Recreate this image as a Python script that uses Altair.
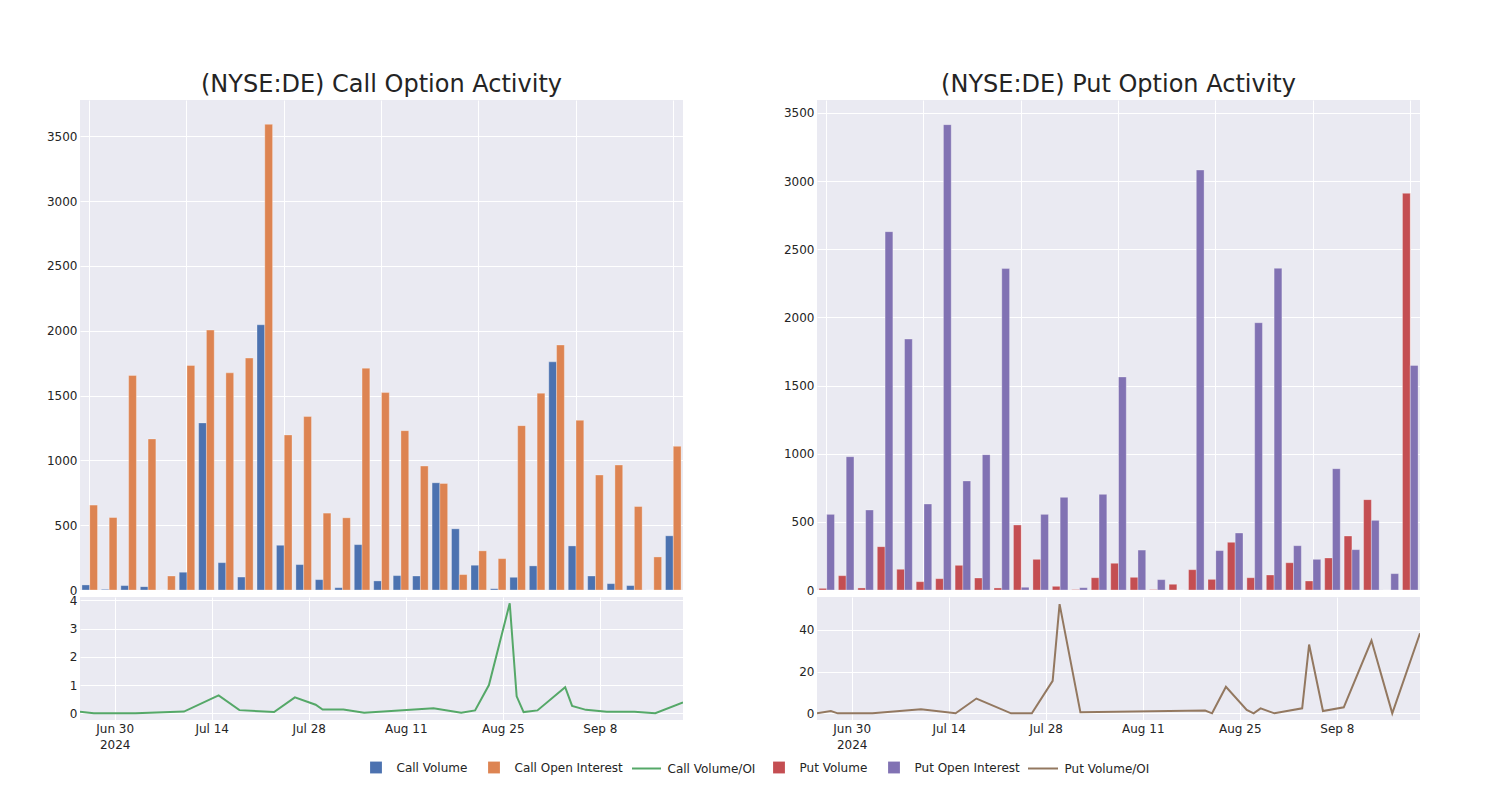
import altair as alt
import pandas as pd

# ---------------- data ----------------
categories = list(range(1, 32))

call_volume = [39, 5, 34, 26, 0, 137, 1289, 211, 100, 2046, 345, 196, 80, 18, 350, 70,
               111, 108, 827, 472, 191, 10, 98, 186, 1760, 340, 108, 49, 34, 0, 418]
call_oi = [655, 559, 1655, 1165, 108, 1732, 2005, 1675, 1789, 3592, 1196, 1338, 593, 557,
           1711, 1523, 1229, 956, 822, 119, 302, 242, 1268, 1518, 1890, 1309, 887, 964,
           644, 255, 1108]

put_volume = [12, 105, 15, 318, 152, 61, 83, 181, 88, 15, 477, 225, 27, 3, 90, 196, 93, 3,
              42, 149, 78, 350, 90, 110, 200, 66, 235, 396, 663, 0, 2910]
put_oi = [555, 978, 587, 2629, 1841, 631, 3414, 800, 993, 2358, 20, 555, 680, 17, 702, 1563,
          293, 76, 0, 3081, 289, 418, 1961, 2360, 325, 225, 890, 296, 511, 120, 1648]

call_ratio_dates = ["2024-06-25", "2024-06-27", "2024-07-03", "2024-07-10", "2024-07-15",
                    "2024-07-18", "2024-07-23", "2024-07-26", "2024-07-29", "2024-07-30",
                    "2024-08-02", "2024-08-05", "2024-08-15", "2024-08-19", "2024-08-21",
                    "2024-08-23", "2024-08-26", "2024-08-27", "2024-08-28", "2024-08-30",
                    "2024-09-03", "2024-09-04", "2024-09-06", "2024-09-09", "2024-09-13",
                    "2024-09-16", "2024-09-20"]
call_ratio = [0.05, 0.0, 0.0, 0.06, 0.63, 0.11, 0.04, 0.56, 0.30, 0.13, 0.13, 0.02, 0.18,
              0.02, 0.10, 1.0, 3.9, 0.6, 0.04, 0.10, 0.92, 0.26, 0.12, 0.05, 0.05, 0.0, 0.38]

put_ratio_dates = ["2024-06-25", "2024-06-27", "2024-06-28", "2024-07-03", "2024-07-10",
                   "2024-07-15", "2024-07-18", "2024-07-23", "2024-07-26", "2024-07-29",
                   "2024-07-30", "2024-08-02", "2024-08-20", "2024-08-21", "2024-08-23",
                   "2024-08-26", "2024-08-27", "2024-08-28", "2024-08-30", "2024-09-03",
                   "2024-09-04", "2024-09-06", "2024-09-09", "2024-09-13", "2024-09-16",
                   "2024-09-20"]
put_ratio = [0.0, 1.1, 0.0, 0.0, 1.9, 0.0, 7.1, 0.0, 0.0, 15.6, 52.4, 0.5, 1.3, 0.0, 12.7,
             1.6, 0.0, 2.4, 0.0, 2.4, 33.0, 1.1, 2.9, 34.9, 0.0, 38.4]

call_bar_names = ["Call Volume", "Call Open Interest"]
call_bar_colors = ["#4C72B0", "#DD8452"]
call_line_name = "Call Volume/OI"
call_line_color = "#55A868"
put_bar_names = ["Put Volume", "Put Open Interest"]
put_bar_colors = ["#C44E52", "#8172B3"]
put_line_name = "Put Volume/OI"
put_line_color = "#937860"

bar_y_ticks = [0, 500, 1000, 1500, 2000, 2500, 3000, 3500]
grid_categories = [1, 6, 11, 16, 21, 26, 31]

# ---------------- styling ----------------
FONT = "DejaVu Sans"
TXT = "#242424"
BG = "#EAEAF2"


def square_legend(x, y):
    return alt.Legend(title=None, orient="none", direction="horizontal", legendX=x, legendY=y,
                      symbolType="square", symbolSize=140, symbolStrokeWidth=0,
                      labelFontSize=12, labelFont=FONT, labelColor=TXT, labelOffset=14.5,
                      columnPadding=20, padding=0)


def line_legend(x, y, size):
    return alt.Legend(title=None, orient="none", direction="horizontal", legendX=x, legendY=y,
                      symbolType="stroke", symbolSize=size, symbolStrokeWidth=2,
                      labelFontSize=12, labelFont=FONT, labelColor=TXT, labelOffset=5.5,
                      padding=0)


def dt(y, m, d):
    return alt.DateTime(year=y, month=m, date=d, utc=True)


tick_dates = [dt(2024, 6, 30), dt(2024, 7, 14), dt(2024, 7, 28),
              dt(2024, 8, 11), dt(2024, 8, 25), dt(2024, 9, 8)]
label_expr = ("utcFormat(datum.value, '%b %d') == 'Jun 30' ? ['Jun 30', '2024'] : "
              "utcFormat(datum.value, '%b ') + utcdate(datum.value)")


def bar_panel(vol, oi, names, colors, ymax, title, legend):
    df = pd.DataFrame({
        "cat": categories * 2,
        "series": [names[0]] * len(categories) + [names[1]] * len(categories),
        "value": vol + oi,
    })
    return alt.Chart(df).mark_bar(stroke="white", strokeWidth=0.6, strokeOpacity=0.5).encode(
        x=alt.X("cat:O", scale=alt.Scale(paddingInner=0.2, paddingOuter=0.1),
                axis=alt.Axis(values=grid_categories, labels=False, ticks=False, domain=False,
                              grid=True, bandPosition=0.5, title=None)),
        xOffset=alt.XOffset("series:N", scale=alt.Scale(domain=names, paddingInner=0, paddingOuter=0)),
        y=alt.Y("value:Q", scale=alt.Scale(domain=[0, ymax], nice=False, zero=True),
                axis=alt.Axis(values=bar_y_ticks, format="d", title=None)),
        color=alt.Color("series:N", scale=alt.Scale(domain=names, range=colors), legend=legend),
    ).properties(
        width=603, height=490,
        title=alt.Title(title, fontSize=24, font=FONT, fontWeight="normal", color=TXT,
                        anchor="middle", baseline="bottom", offset=4, dy=25),
    )


def line_panel(dates, ratio, name, color, ydomain, yvalues, legend):
    df = pd.DataFrame({"date": dates, "ratio": ratio, "series": name})
    return alt.Chart(df).mark_line(strokeWidth=2, clip=True).encode(
        x=alt.X("date:T",
                scale=alt.Scale(type="utc", domain=[dt(2024, 6, 25), dt(2024, 9, 20)], nice=False),
                axis=alt.Axis(values=tick_dates, labelExpr=label_expr, title=None,
                              labelLineHeight=16, labelPadding=3)),
        y=alt.Y("ratio:Q", scale=alt.Scale(domain=ydomain, nice=False, zero=False),
                axis=alt.Axis(values=yvalues, title=None)),
        stroke=alt.Stroke("series:N", scale=alt.Scale(domain=[name], range=[color]), legend=legend),
    ).properties(width=603, height=123)


call_bars = bar_panel(call_volume, call_oi, call_bar_names, call_bar_colors, 3780,
                      "(NYSE:DE) Call Option Activity", square_legend(290, 661.5))
put_bars = bar_panel(put_volume, put_oi, put_bar_names, put_bar_colors, 3595,
                     "(NYSE:DE) Put Option Activity", square_legend(-44, 661.5))
call_line = line_panel(call_ratio_dates, call_ratio, call_line_name, call_line_color,
                       [-0.24, 4.12], [0, 1, 2, 3, 4], line_legend(551, 156, 841))
put_line = line_panel(put_ratio_dates, put_ratio, put_line_name, put_line_color,
                      [-3.2, 55.8], [0, 20, 40], line_legend(210, 155.5, 900))

chart = alt.concat(
    call_bars, put_bars, call_line, put_line,
    columns=2, spacing=alt.RowColnumber(row=7, column=134), bounds="flush",
).resolve_scale(
    x="independent", y="independent", xOffset="independent",
    color="independent", stroke="independent"
).resolve_legend(
    color="independent", stroke="independent"
).properties(
    padding={"left": 38, "top": 65, "right": 10, "bottom": 10},
    background="white",
).configure(
    font=FONT,
).configure_view(
    fill=BG, stroke=None,
).configure_axis(
    labelFont=FONT, labelFontSize=12, labelColor=TXT, labelPadding=3,
    ticks=False, domain=False, grid=True, gridColor="white", gridWidth=1, gridOpacity=1,
)

chart.save("out.html", embed_options={"renderer": "svg", "actions": False})
